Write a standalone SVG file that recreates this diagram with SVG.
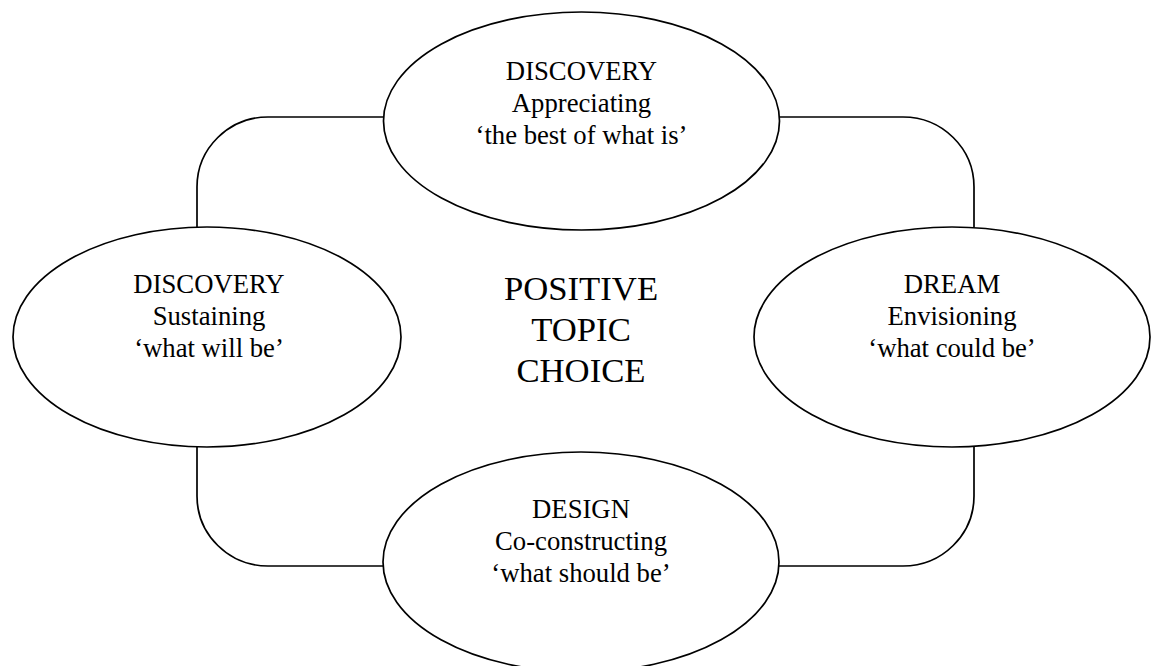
<svg xmlns="http://www.w3.org/2000/svg" width="1151" height="666" viewBox="0 0 1151 666">
  <style>
    .stage { fill: #ffffff; stroke: #000000; stroke-width: 1.7; }
    .link { fill: none; stroke: #000000; stroke-width: 1.7; }
    .label { font-family: "Liberation Serif", "Times New Roman", serif; font-size: 26.7px; fill: #000000; text-anchor: middle; }
    .core { font-family: "Liberation Serif", "Times New Roman", serif; font-size: 34.7px; fill: #000000; text-anchor: middle; }
  </style>
  <rect width="1151" height="666" fill="#ffffff"/>

  <!-- rounded connectors between the four stages -->
  <g id="connectors">
    <path class="link" d="M384,117 H268 A71,70 0 0 0 197,187 V228"/>
    <path class="link" d="M779,117 H903 A71,70 0 0 1 974,187 V228"/>
    <path class="link" d="M197,446 V496 A71,70 0 0 0 268,566 H384"/>
    <path class="link" d="M974,446 V496 A71,70 0 0 1 903,566 H779"/>
  </g>

  <g id="discovery-appreciating">
    <ellipse class="stage" cx="581.5" cy="121" rx="198" ry="109"/>
    <text class="label" x="581.5" y="80">DISCOVERY</text>
    <text class="label" x="581.5" y="112">Appreciating</text>
    <text class="label" x="581.5" y="144">‘the best of what is’</text>
  </g>

  <g id="discovery-sustaining">
    <ellipse class="stage" cx="207" cy="337" rx="194" ry="110"/>
    <text class="label" x="209" y="293">DISCOVERY</text>
    <text class="label" x="209" y="325">Sustaining</text>
    <text class="label" x="209" y="357">‘what will be’</text>
  </g>

  <g id="dream">
    <ellipse class="stage" cx="952" cy="337" rx="198" ry="110"/>
    <text class="label" x="952" y="293">DREAM</text>
    <text class="label" x="952" y="325">Envisioning</text>
    <text class="label" x="952" y="357">‘what could be’</text>
  </g>

  <g id="design">
    <ellipse class="stage" cx="581" cy="562" rx="198" ry="110"/>
    <text class="label" x="581" y="518">DESIGN</text>
    <text class="label" x="581" y="550">Co-constructing</text>
    <text class="label" x="581" y="582">‘what should be’</text>
  </g>

  <g id="positive-topic-choice">
    <text class="core" x="581" y="300">POSITIVE</text>
    <text class="core" x="581" y="341">TOPIC</text>
    <text class="core" x="581" y="382">CHOICE</text>
  </g>
</svg>
